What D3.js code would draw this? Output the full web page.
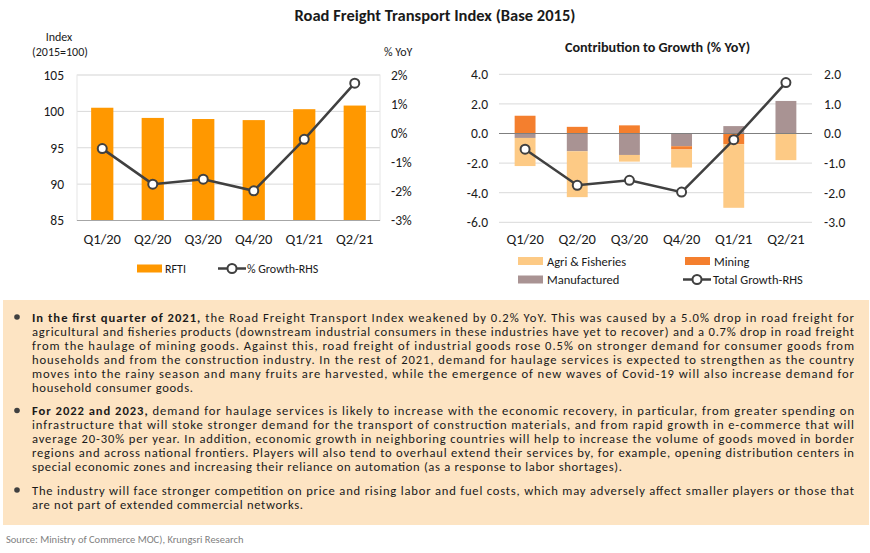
<!DOCTYPE html>
<html>
  <head>
    <meta charset="utf-8">
    <script src="https://d3js.org/d3.v7.min.js"></script>
    <style>
      body { margin: 0; background: #fff; }
      text { font-family: Carlito, Lato, "Open Sans", sans-serif; fill: #1a1a1a; }
    </style>
  </head>
  <body>
    <svg width="870" height="553"></svg>
    <script>

      // data
      const quarters = ["Q1/20", "Q2/20", "Q3/20", "Q4/20", "Q1/21", "Q2/21"];
      const rfti = [100.5, 99.1, 98.95, 98.8, 100.3, 100.8];
      const growth = [-0.53, -1.75, -1.58, -1.98, -0.21, 1.72];
      const agri = [-1.9, -3.1, -0.45, -1.22, -4.3, -1.8];
      const mining = [1.2, 0.45, 0.55, -0.22, -0.72, 0];
      const manufactured = [-0.3, -1.2, -1.45, -0.86, 0.5, 2.2];

      const rftiTicks = [85, 90, 95, 100, 105];
      const yoyTicks = [-3, -2, -1, 0, 1, 2];
      const contribTicks = [-6, -4, -2, 0, 2, 4];

      const bullets = [
        [
          [["In the first quarter of 2021,", true], [" the Road Freight Transport Index weakened by 0.2% YoY. This was caused by a 5.0% drop in road freight for", false]],
          [["agricultural and fisheries products (downstream industrial consumers in these industries have yet to recover) and a 0.7% drop in road freight", false]],
          [["from the haulage of mining goods. Against this, road freight of industrial goods rose 0.5% on stronger demand for consumer goods from", false]],
          [["households and from the construction industry. In the rest of 2021, demand for haulage services is expected to strengthen as the country", false]],
          [["moves into the rainy season and many fruits are harvested, while the emergence of new waves of Covid-19 will also increase demand for", false]],
          [["household consumer goods.", false]]
        ],
        [
          [["For 2022 and 2023,", true], [" demand for haulage services is likely to increase with the economic recovery, in particular, from greater spending on", false]],
          [["infrastructure that will stoke stronger demand for the transport of construction materials, and from rapid growth in e-commerce that will", false]],
          [["average 20-30% per year. In addition, economic growth in neighboring countries will help to increase the volume of goods moved in border", false]],
          [["regions and across national frontiers. Players will also tend to overhaul extend their services by, for example, opening distribution centers in", false]],
          [["special economic zones and increasing their reliance on automation (as a response to labor shortages).", false]]
        ],
        [
          [["The industry will face stronger competition on price and rising labor and fuel costs, which may adversely affect smaller players or those that", false]],
          [["are not part of extended commercial networks.", false]]
        ]
      ];

      const svg = d3.select("svg");
      const lineColor = "#404040";
      const gridColor = "#d9d9d9";
      const hyphen = f => d => f(d).replace("\u2212", "-");

      svg.append("text")
          .attr("x", 435).attr("y", 21)
          .attr("text-anchor", "middle")
          .style("font-size", "16.5px").style("font-weight", "600")
          .text("Road Freight Transport Index (Base 2015)");

      // ---------- left chart ----------
      const x1 = d3.scaleBand().domain(quarters).range([77, 380]).paddingInner(0.56).paddingOuter(0.28);
      const y1 = d3.scaleLinear().domain([85, 105]).range([220.5, 75]);
      const y1r = d3.scaleLinear().domain([-3, 2]).range([220.5, 75]);

      const left = svg.append("g");

      left.append("g")
          .selectAll("line").data(rftiTicks.slice(1)).join("line")
          .attr("x1", 77).attr("x2", 380)
          .attr("y1", d => y1(d)).attr("y2", d => y1(d))
          .attr("stroke", gridColor);
      left.append("rect")
          .attr("x", 77).attr("y", 75).attr("width", 303).attr("height", 145.5)
          .attr("fill", "none").attr("stroke", "#e6e6e6");

      left.selectAll(".bar").data(rfti).join("rect")
          .attr("x", (d, i) => x1(quarters[i]))
          .attr("y", d => y1(d))
          .attr("width", x1.bandwidth())
          .attr("height", d => y1(85) - y1(d))
          .attr("fill", "#ff9800");

      left.append("line")
          .attr("x1", 77).attr("x2", 380)
          .attr("y1", y1(85)).attr("y2", y1(85))
          .attr("stroke", "#a6a6a6");

      const ax1 = left.append("g").attr("transform", "translate(64,0)")
          .call(d3.axisLeft(y1).tickValues(rftiTicks).tickSize(0).tickPadding(0));
      const ax1r = left.append("g").attr("transform", "translate(391,0)")
          .call(d3.axisRight(y1r).tickValues(yoyTicks).tickSize(0).tickPadding(0).tickFormat(d => d + "%"));
      const ax1b = left.append("g").attr("transform", `translate(0,${y1(85)})`)
          .call(d3.axisBottom(x1).tickSize(0).tickPadding(13));
      [ax1, ax1r, ax1b].forEach(a => {
        a.select(".domain").remove();
        a.selectAll("text").style("font-size", "13.5px").attr("fill", "#1a1a1a")
            .style("font-family", "Carlito, Lato, sans-serif");
      });
      ax1b.selectAll("text").style("font-size", "14.5px");

      const line1 = d3.line().x((d, i) => x1(quarters[i]) + x1.bandwidth() / 2).y(d => y1r(d));
      left.append("path").datum(growth)
          .attr("d", line1).attr("fill", "none")
          .attr("stroke", lineColor).attr("stroke-width", 2.5);
      left.selectAll(".dot").data(growth).join("circle")
          .attr("cx", (d, i) => x1(quarters[i]) + x1.bandwidth() / 2)
          .attr("cy", d => y1r(d)).attr("r", 4.5)
          .attr("fill", "#fff").attr("stroke", lineColor).attr("stroke-width", 2);

      left.append("text").attr("x", 59).attr("y", 41).attr("text-anchor", "middle")
          .style("font-size", "12px").text("Index");
      left.append("text").attr("x", 60).attr("y", 56).attr("text-anchor", "middle")
          .style("font-size", "12px").text("(2015=100)");
      left.append("text").attr("x", 384).attr("y", 56)
          .style("font-size", "12px").text("% YoY");

      // legend
      left.append("rect").attr("x", 137).attr("y", 264.5).attr("width", 25).attr("height", 8).attr("fill", "#ff9800");
      left.append("text").attr("x", 165).attr("y", 272.5).style("font-size", "12px").text("RFTI");
      left.append("line").attr("x1", 218).attr("x2", 246).attr("y1", 268.5).attr("y2", 268.5)
          .attr("stroke", lineColor).attr("stroke-width", 2.5);
      left.append("circle").attr("cx", 232).attr("cy", 268.5).attr("r", 4.5)
          .attr("fill", "#fff").attr("stroke", lineColor).attr("stroke-width", 2);
      left.append("text").attr("x", 247).attr("y", 272.5).style("font-size", "12px").text("% Growth-RHS");

      // ---------- right chart ----------
      const x2 = d3.scaleBand().domain(quarters).range([499, 812]).paddingInner(0.6).paddingOuter(0.3);
      const y2 = d3.scaleLinear().domain([-6, 4]).range([222.3, 74.3]);
      const y2r = d3.scaleLinear().domain([-3, 2]).range([222.3, 74.3]);

      const right = svg.append("g");
      right.append("g")
          .selectAll("line").data(contribTicks.filter(d => d !== 0)).join("line")
          .attr("x1", 499).attr("x2", 812)
          .attr("y1", d => y2(d)).attr("y2", d => y2(d))
          .attr("stroke", gridColor);

      const keys = ["manufactured", "mining", "agri"];
      const colors = { agri: "#fdca85", mining: "#f47f2e", manufactured: "#a99393" };
      const rows = quarters.map((q, i) => ({ q, agri: agri[i], mining: mining[i], manufactured: manufactured[i] }));
      const stacked = d3.stack().keys(keys).offset(d3.stackOffsetDiverging)(rows);

      right.selectAll(".layer").data(stacked).join("g")
          .attr("fill", d => colors[d.key])
          .selectAll("rect").data(d => d).join("rect")
          .attr("x", d => x2(d.data.q))
          .attr("y", d => y2(Math.max(d[0], d[1])))
          .attr("height", d => Math.abs(y2(d[0]) - y2(d[1])))
          .attr("width", x2.bandwidth());

      right.append("line")
          .attr("x1", 499).attr("x2", 812)
          .attr("y1", y2(0)).attr("y2", y2(0))
          .attr("stroke", "#7f7f7f");

      const ax2 = right.append("g").attr("transform", "translate(488,0)")
          .call(d3.axisLeft(y2).tickValues(contribTicks).tickSize(0).tickPadding(0).tickFormat(hyphen(d3.format(".1f"))));
      const ax2r = right.append("g").attr("transform", "translate(824,0)")
          .call(d3.axisRight(y2r).tickValues(yoyTicks).tickSize(0).tickPadding(0).tickFormat(hyphen(d3.format(".1f"))));
      const ax2b = right.append("g").attr("transform", `translate(0,${y2(-6)})`)
          .call(d3.axisBottom(x2).tickSize(0).tickPadding(11));
      [ax2, ax2r, ax2b].forEach(a => {
        a.select(".domain").remove();
        a.selectAll("text").style("font-size", "13.5px").attr("fill", "#1a1a1a")
            .style("font-family", "Carlito, Lato, sans-serif");
      });
      ax2b.selectAll("text").style("font-size", "14.5px");

      const line2 = d3.line().x((d, i) => x2(quarters[i]) + x2.bandwidth() / 2).y(d => y2r(d));
      right.append("path").datum(growth)
          .attr("d", line2).attr("fill", "none")
          .attr("stroke", lineColor).attr("stroke-width", 2.5);
      right.selectAll(".dot").data(growth).join("circle")
          .attr("cx", (d, i) => x2(quarters[i]) + x2.bandwidth() / 2)
          .attr("cy", d => y2r(d)).attr("r", 4.5)
          .attr("fill", "#fff").attr("stroke", lineColor).attr("stroke-width", 2);

      right.append("text").attr("x", 657.5).attr("y", 52).attr("text-anchor", "middle")
          .style("font-size", "14.2px").style("font-weight", "600")
          .text("Contribution to Growth (% YoY)");

      // legend
      const legend2 = [
        { label: "Agri & Fisheries", key: "agri", x: 518, y: 261 },
        { label: "Mining", key: "mining", x: 685, y: 261 },
        { label: "Manufactured", key: "manufactured", x: 518, y: 279.5 }
      ];
      legend2.forEach(l => {
        right.append("rect").attr("x", l.x).attr("y", l.y - 4).attr("width", 25).attr("height", 8).attr("fill", colors[l.key]);
        right.append("text").attr("x", l.x + 29).attr("y", l.y + 4.5).style("font-size", "12.5px").text(l.label);
      });
      right.append("line").attr("x1", 683).attr("x2", 711).attr("y1", 279.5).attr("y2", 279.5)
          .attr("stroke", lineColor).attr("stroke-width", 2.5);
      right.append("circle").attr("cx", 697).attr("cy", 279.5).attr("r", 4.5)
          .attr("fill", "#fff").attr("stroke", lineColor).attr("stroke-width", 2);
      right.append("text").attr("x", 713).attr("y", 284).style("font-size", "12.5px").text("Total Growth-RHS");

      // ---------- text box ----------
      svg.append("rect").attr("x", 3).attr("y", 300).attr("width", 866).attr("height", 225)
          .attr("fill", "#fde4c3");

      const firstBaseline = [321.5, 415, 494.5];
      const lineStep = 14;
      const lastWidth = [161, 590, 271];
      bullets.forEach((para, p) => {
        svg.append("circle").attr("cx", 17).attr("cy", firstBaseline[p] - 4.5).attr("r", 2.8).attr("fill", "#404040");
        para.forEach((segs, k) => {
          const t = svg.append("text")
              .attr("x", 32).attr("y", firstBaseline[p] + k * lineStep)
              .style("font-size", "12.6px")
              .attr("textLength", k === para.length - 1 ? lastWidth[p] : 822)
              .attr("lengthAdjust", "spacing");
          segs.forEach(s => t.append("tspan").style("font-weight", s[1] ? "bold" : "normal").text(s[0]));
        });
      });

      svg.append("text").attr("x", 6).attr("y", 543)
          .style("font-size", "10.5px").style("fill", "#7f7f7f")
          .text("Source: Ministry of Commerce MOC),  Krungsri Research");

    </script>
  </body>
</html>
